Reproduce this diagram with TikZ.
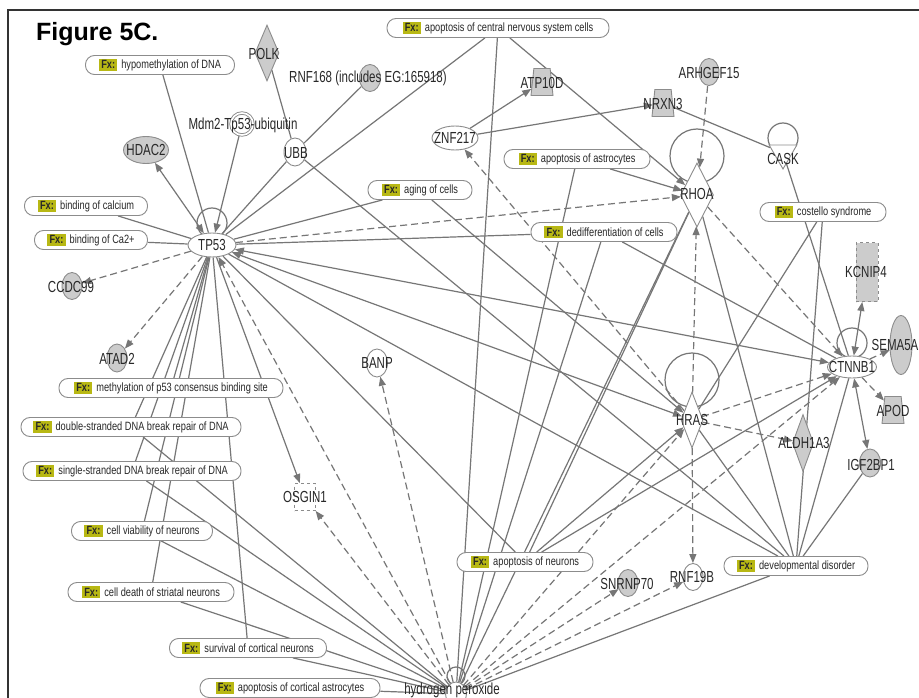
\documentclass[tikz,border=0pt]{standalone}
\usepackage{fontspec}
\setmainfont{Liberation Sans}
\newfontfamily\genefont[FakeStretch=0.72]{Liberation Sans}
\newfontfamily\fxfont[FakeStretch=0.77]{Liberation Sans}
\usetikzlibrary{shapes.geometric,arrows.meta}
\definecolor{fxy}{RGB}{184,184,20}
\definecolor{edgec}{RGB}{118,118,118}
\definecolor{nodeg}{RGB}{204,204,204}
\definecolor{bord}{RGB}{140,140,140}
\definecolor{txt}{RGB}{40,40,40}
\newcommand{\fxtag}{{\setlength{\fboxsep}{2.2pt}\colorbox{fxy}{\bfseries Fx:}}\hspace{4pt}}
\pgfdeclarelayer{paper}
\pgfdeclarelayer{edgelayer}
\pgfsetlayers{paper,edgelayer,main}
\tikzset{
  fx/.style={draw=bord, line width=0.9pt, fill=white, rounded corners=9pt, minimum height=19pt, inner xsep=11pt, inner ysep=0pt, text=txt, font=\fxfont\fontsize{12}{13}\selectfont},
  gene/.style={draw=bord, line width=0.9pt, inner sep=0pt},
  gg/.style={gene, fill=nodeg},
  gw/.style={gene, fill=white},
  trap/.style={trapezium, inner sep=1pt, trapezium stretches=true, trapezium left angle=80, trapezium right angle=80, minimum width=22pt, minimum height=27pt},
  glab/.style={inner sep=0pt, text=txt, font=\genefont\fontsize{16}{16}\selectfont},
  ln/.style={draw=edgec, line width=1.2pt},
  lna/.style={ln, -{Triangle[length=9pt,width=7pt]}},
  lnb/.style={ln, {Triangle[length=9pt,width=7pt]}-{Triangle[length=9pt,width=7pt]}},
  dsh/.style={ln, dash pattern=on 7pt off 4pt},
  dsha/.style={dsh, -{Triangle[length=9pt,width=7pt]}},
  loopc/.style={draw=edgec, line width=1.2pt},
}
\begin{document}
\begin{tikzpicture}[x=1pt,y=-1pt]
\useasboundingbox (0,0) rectangle (919,698);
\begin{pgfonlayer}{paper}
\fill[white] (0,0) rectangle (919,698);
\end{pgfonlayer}
\draw[line width=2pt, black!80] (8,698) -- (8,10) -- (919,10);
\node[font=\bfseries\fontsize{25}{25}\selectfont, anchor=base west, inner sep=0pt] (title) at (36,41) {Figure 5C.};

% function nodes
\node[fx, minimum width=149pt] (fhypo) at (160,65) {\fxtag hypomethylation of DNA};
\node[fx, minimum width=222pt] (fcns) at (498,28) {\fxtag apoptosis of central nervous system cells};
\node[fx, minimum width=123pt] (fcalc) at (86,206) {\fxtag binding of calcium};
\node[fx, minimum width=113pt] (fca) at (91,240) {\fxtag binding of Ca2+};
\node[fx, minimum width=104pt] (faging) at (420,190) {\fxtag aging of cells};
\node[fx, minimum width=146pt] (fastro) at (577,159) {\fxtag apoptosis of astrocytes};
\node[fx, minimum width=146pt] (fdedif) at (604,232) {\fxtag dedifferentiation of cells};
\node[fx, minimum width=126pt] (fcost) at (823,212) {\fxtag costello syndrome};
\node[fx, minimum width=224pt] (fmeth) at (171,388) {\fxtag methylation of p53 consensus binding site};
\node[fx, minimum width=220pt] (fdsb) at (131,427) {\fxtag double-stranded DNA break repair of DNA};
\node[fx, minimum width=218pt] (fssb) at (132,471) {\fxtag single-stranded DNA break repair of DNA};
\node[fx, minimum width=141pt] (fviab) at (142,531) {\fxtag cell viability of neurons};
\node[fx, minimum width=166pt] (fdeath) at (151,592) {\fxtag cell death of striatal neurons};
\node[fx, minimum width=157pt] (fsurv) at (248,648) {\fxtag survival of cortical neurons};
\node[fx, minimum width=180pt] (fcast) at (290,688) {\fxtag apoptosis of cortical astrocytes};
\node[fx, minimum width=136pt] (fneur) at (525,562) {\fxtag apoptosis of neurons};
\node[fx, minimum width=144pt] (fdev) at (796,566) {\fxtag developmental disorder};

% gene / chemical shapes
\node[gg, diamond, minimum width=24pt, minimum height=56pt] (polk) at (267,53) {};
\node[gg, ellipse, minimum width=21pt, minimum height=27pt] (rnf168) at (370,78) {};
\node[gw, circle, double=white, double distance=1.6pt, minimum size=22pt] (mdm2) at (242,124) {};
\node[gw, ellipse, minimum width=22pt, minimum height=28pt] (ubb) at (295,152) {};
\node[gg, ellipse, minimum width=45pt, minimum height=27pt] (hdac2) at (146,150) {};
\node[gw, ellipse, minimum width=48pt, minimum height=24pt] (tp53) at (212,245) {};
\node[gg, ellipse, minimum width=20pt, minimum height=27pt] (ccdc99) at (72,286) {};
\node[gg, ellipse, minimum width=20pt, minimum height=28pt] (atad2) at (117,358) {};
\node[gw, ellipse, minimum width=46pt, minimum height=24pt] (znf217) at (455,138) {};
\node[gg, trap] (atp10d) at (542,82) {};
\node[gg, trap] (nrxn3) at (663,103) {};
\node[gg, ellipse, minimum width=20pt, minimum height=27pt] (arhgef15) at (709,72) {};
\node[gw, diamond, minimum width=33pt, minimum height=64pt] (rhoa) at (697,195) {};
\node[gw, regular polygon, regular polygon sides=3, shape border rotate=180, minimum size=32pt] (cask) at (783,153) {};
\node[gg, rectangle, dashed, minimum width=22pt, minimum height=59pt] (kcnip4) at (867,272) {};
\node[gg, ellipse, minimum width=22pt, minimum height=59pt] (sema5a) at (901,345) {};
\node[gw, ellipse, minimum width=49pt, minimum height=22pt] (ctnnb1) at (852,367) {};
\node[gg, trap] (apod) at (893,410) {};
\node[gg, diamond, minimum width=21pt, minimum height=57pt] (aldh1a3) at (803,443) {};
\node[gg, ellipse, minimum width=21pt, minimum height=28pt] (igf2bp1) at (870,463) {};
\node[gw, diamond, minimum width=22pt, minimum height=56pt] (hras) at (692,420) {};
\node[gw, ellipse, minimum width=21pt, minimum height=28pt] (banp) at (377,363) {};
\node[gw, rectangle, dashed, minimum width=21pt, minimum height=27pt] (osgin1) at (305,497) {};
\node[gg, ellipse, minimum width=20pt, minimum height=27pt] (snrnp70) at (628,583) {};
\node[gw, ellipse, minimum width=20pt, minimum height=27pt] (rnf19b) at (693,577) {};
\node[gw, ellipse, minimum width=21pt, minimum height=24pt] (hp) at (456,694) {};

% labels
\node[glab] (polkl) at (264,54) {POLK};
\node[glab] (rnf168l) at (368,78) {RNF168 (includes EG:165918)};
\node[glab] (mdm2l) at (243,125) {Mdm2-Tp53-ubiquitin};
\node[glab] (ubbl) at (296,153) {UBB};
\node[glab] (hdac2l) at (146,150) {HDAC2};
\node[glab] (tp53l) at (212,245) {TP53};
\node[glab] (ccdc99l) at (71,287) {CCDC99};
\node[glab] (atad2l) at (117,359) {ATAD2};
\node[glab] (znf217l) at (455,138) {ZNF217};
\node[glab] (atp10dl) at (542,83) {ATP10D};
\node[glab] (nrxn3l) at (663,104) {NRXN3};
\node[glab] (arhgef15l) at (709,73) {ARHGEF15};
\node[glab] (rhoal) at (697,194) {RHOA};
\node[glab] (caskl) at (783,159) {CASK};
\node[glab] (kcnip4l) at (866,272) {KCNIP4};
\node[glab] (sema5al) at (895,345) {SEMA5A};
\node[glab] (ctnnb1l) at (852,367) {CTNNB1};
\node[glab] (apodl) at (893,411) {APOD};
\node[glab] (aldh1a3l) at (804,443) {ALDH1A3};
\node[glab] (igf2bp1l) at (871,465) {IGF2BP1};
\node[glab] (hrasl) at (692,420) {HRAS};
\node[glab] (banpl) at (377,363) {BANP};
\node[glab] (osgin1l) at (305,497) {OSGIN1};
\node[glab] (snrnp70l) at (627,584) {SNRNP70};
\node[glab] (rnf19bl) at (692,577) {RNF19B};
\node[glab] (hpl) at (452,690) {hydrogen peroxide};

\begin{pgfonlayer}{edgelayer}
% self loops
\draw[loopc] ([yshift=22pt]tp53.center) circle[radius=15pt];
\draw[loopc] ([yshift=39pt]rhoa.center) circle[radius=27pt];
\draw[loopc] ([yshift=40pt]hras.center) circle[radius=27pt];
\draw[loopc] ([yshift=24pt]ctnnb1.center) circle[radius=15pt];
\draw[loopc] ([yshift=15pt]cask.center) circle[radius=15pt];
\draw[loopc] ([yshift=18pt]hp.center) circle[radius=9pt];
% solid plain
\draw[ln] (fhypo) -- (tp53);
\draw[ln] (ubb) -- (tp53);
\draw[ln] (polk) -- (ubb);
\draw[ln] (rnf168) -- (ubb);
\draw[ln] (tp53) -- (fcns);
\draw[ln] (fcalc) -- (tp53);
\draw[ln] (fca) -- (tp53);
\draw[ln] (faging) -- (tp53);
\draw[ln] (fdedif) -- (tp53);
\draw[ln] (fmeth) -- (tp53);
\draw[ln] (fdsb) -- (tp53);
\draw[ln] (fssb) -- (tp53);
\draw[ln] (fviab) -- (tp53);
\draw[ln] (fdeath) -- (tp53);
\draw[ln] (fsurv) -- (tp53);
\draw[ln] (tp53) -- (fneur);
\draw[ln] (tp53) -- (fdev);
\draw[ln] (ubb) -- (fdev);
\draw[ln] (fcns) -- (hp);
\draw[ln] (fastro) -- (hp);
\draw[ln] (fdedif) -- (hp);
\draw[ln] (rhoa) -- (hp);
\draw[ln] (fdsb) -- (hp);
\draw[ln] (fssb) -- (hp);
\draw[ln] (fviab) -- (hp);
\draw[ln] (fdeath) -- (hp);
\draw[ln] (fsurv) -- (hp);
\draw[ln] (fcast) -- (hp);
\draw[ln] (hp) -- (fdev);
\draw[ln] (rhoa) -- (fdev);
\draw[ln] (hras) -- (fdev);
\draw[ln] (ctnnb1) -- (fdev);
\draw[ln] (igf2bp1) -- (fdev);
\draw[ln] (fcost) -- (fdev);
\draw[ln] (nrxn3) -- (cask);
\draw[ln] (cask) -- (ctnnb1);
\draw[ln] (fcost) -- (hras);
\draw[ln] (fdedif) -- (ctnnb1);
\draw[ln] (rhoa) -- (fneur);
\draw[lna] (faging) -- (hras);
% solid arrows
\draw[lnb] (hdac2) -- (tp53);
\draw[lna] (mdm2) -- (tp53);
\draw[lna] (znf217) -- (atp10d);
\draw[lna] (znf217) -- (nrxn3);
\draw[lna] (fastro) -- (rhoa);
\draw[lna] (fcns) -- (rhoa);
\draw[lna] (tp53) -- (osgin1);
\draw[lnb] (tp53) -- (ctnnb1);
\draw[lnb] (tp53) -- (hras);
\draw[lnb] (ctnnb1) -- (kcnip4);
\draw[lnb] (ctnnb1) -- (igf2bp1);
\draw[lna] (fneur) -- (hras);
\draw[lna] (fneur) -- (ctnnb1);
% dashed
\draw[dsha] (tp53) -- (rhoa);
\draw[dsha] (tp53) -- (ccdc99);
\draw[dsha] (tp53) -- (atad2);
\draw[dsha] (hp) -- (tp53);
\draw[dsha] (hp) -- (banp);
\draw[dsha] (hp) -- (osgin1);
\draw[dsha] (hp) -- (snrnp70);
\draw[dsha] (hp) -- (rnf19b);
\draw[dsha] (hp) -- (ctnnb1);
\draw[dsha] (hp) -- (hras);
\draw[dsha] (arhgef15) -- (rhoa);
\draw[dsha] (hras) -- (rhoa);
\draw[dsha] (hras) -- (rnf19b);
\draw[dsha] (hras) -- (ctnnb1);
\draw[dsha] (hras) -- (aldh1a3);
\draw[dsha] (hras) -- (znf217);
\draw[dsha] (rhoa) -- (ctnnb1);
\draw[dsha] (ctnnb1) -- (sema5a);
\draw[dsha] (ctnnb1) -- (apod);
\end{pgfonlayer}
\end{tikzpicture}
\end{document}
